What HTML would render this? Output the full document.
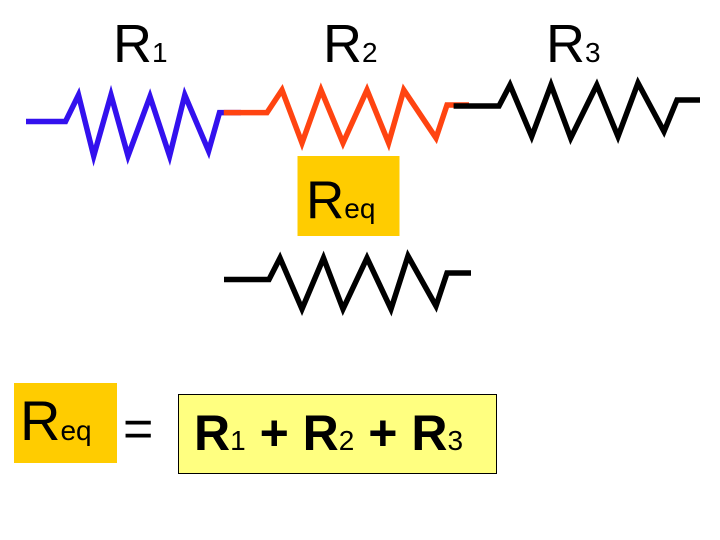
<!DOCTYPE html>
<html><head><style>
html,body{margin:0;padding:0;background:#fff;}
svg{display:block;}
text{font-family:"Liberation Sans",Arial,sans-serif;}
</style></head><body>
<svg width="720" height="540" viewBox="0 0 720 540" xmlns="http://www.w3.org/2000/svg">
<g fill="none" stroke-width="5.5" stroke-linejoin="miter" stroke-linecap="butt">
<polyline stroke="#3311ee" points="26,121.5 65.5,121.5 78.5,95 93.7,156 111,95 128,156 150,96.6 169.6,156 184.8,95 208.6,151 219.5,112.6 241,112.6"/>
<polyline stroke="#ff4411" points="223.8,112.6 267,112.6 282,90 302,143 321,90 343,143 367,90 388.6,143 403.8,90 436,138 447,105 469,105"/>
<polyline stroke="#000" points="453.6,106 499,106 510,85 531.7,136.5 551,85 570.7,138 596.8,85 618,136.5 638,83 664,131.5 677,100 700,100"/>
<polyline stroke="#000" points="224,279.5 269,279.5 280,258 302,309 323.5,258 343,309 367,258 391,309 408,256 436,306 447,273 471,273"/>
</g>
<text x="113" y="62" font-size="54">R<tspan font-size="28">1</tspan></text>
<text x="323" y="62" font-size="54">R<tspan font-size="28">2</tspan></text>
<text x="546" y="62" font-size="54">R<tspan font-size="28">3</tspan></text>
<rect x="297.5" y="156" width="102" height="80" fill="#ffcc00"/>
<text x="306" y="218" font-size="53">R<tspan font-size="28">eq</tspan></text>
<rect x="14" y="383" width="103" height="80" fill="#ffcc00"/>
<text x="20" y="440" font-size="56">R<tspan font-size="28">eq</tspan></text>
<text x="123" y="446" font-size="52">=</text>
<rect x="178.5" y="394.5" width="318" height="79" fill="#ffff80" stroke="#000" stroke-width="1"/>
<text x="194" y="450" font-size="50" font-weight="bold">R<tspan font-size="28" font-weight="normal">1</tspan> + R<tspan font-size="28" font-weight="normal">2</tspan> + R<tspan font-size="28" font-weight="normal">3</tspan></text>
</svg>
</body></html>
